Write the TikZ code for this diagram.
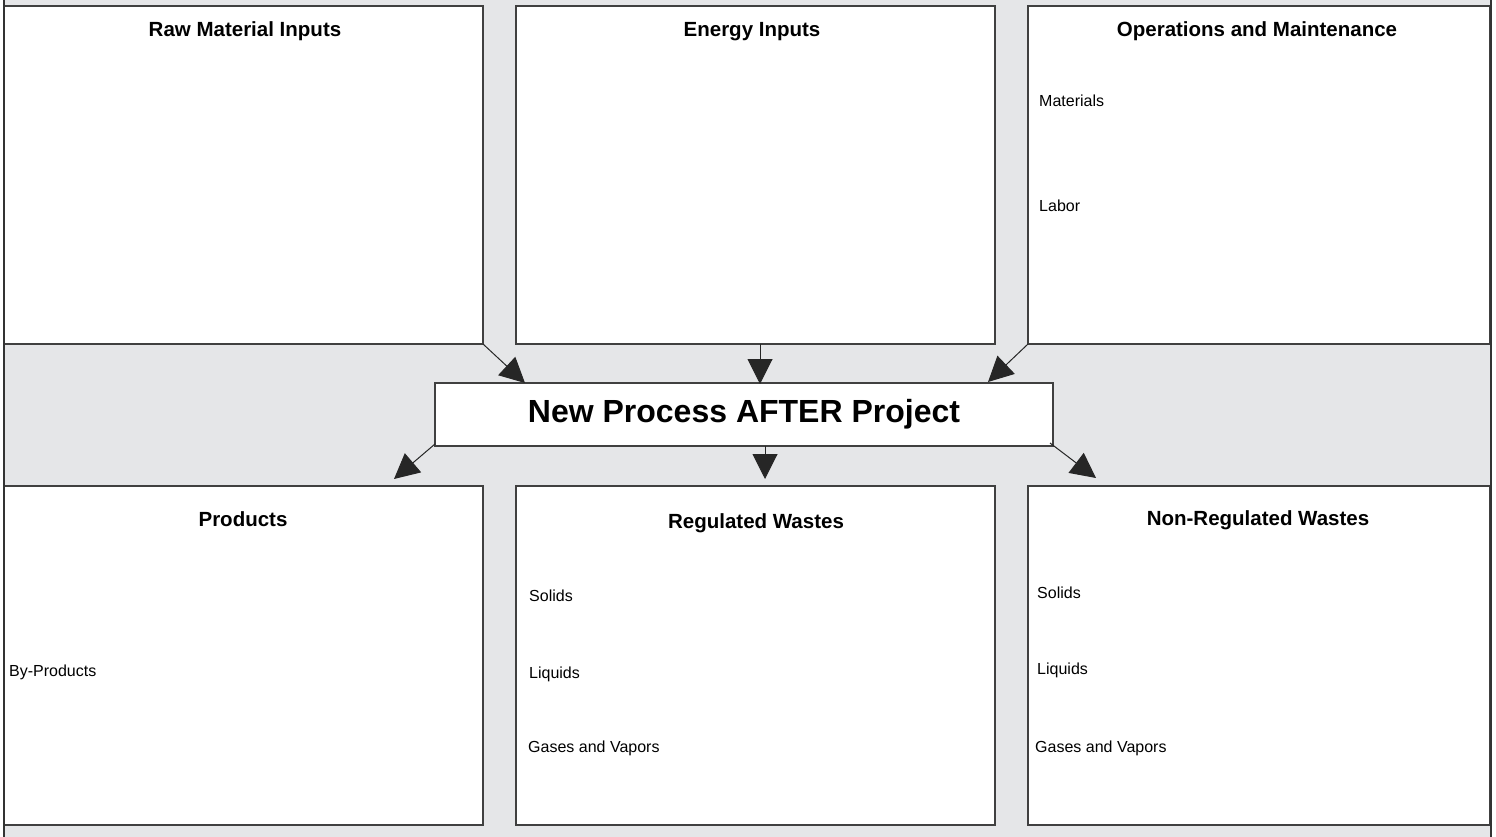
\documentclass[tikz,border=0pt]{standalone}
\usepackage{fontspec}
\setmainfont{Liberation Sans}
\usetikzlibrary{arrows.meta}
\definecolor{bggray}{HTML}{E5E6E8}
\definecolor{edgegray}{HTML}{404040}
\tikzset{
  panel/.style={draw=edgegray, line width=1.5pt, fill=white, anchor=north west, inner sep=0pt, outer sep=0pt},
  title/.style={font=\fontsize{20.5}{24}\selectfont\bfseries, text=black, inner sep=0pt},
  label/.style={font=\fontsize{16}{19}\selectfont, text=black, anchor=west, inner sep=0pt},
  flow/.style={draw=black!85, line width=1pt, -{Triangle[length=25pt,width=25pt]}},
}
\begin{document}
\begin{tikzpicture}[x=1pt,y=-1pt]
\useasboundingbox (0,0) rectangle (1496,837);
\fill[bggray] (4,0) rectangle (1491,837);
% top row
\node[panel, minimum width=479, minimum height=338] (raw) at (4,6) {};
\node[panel, minimum width=479, minimum height=338] (energy) at (516,6) {};
\node[panel, minimum width=462, minimum height=338] (om) at (1028,6) {};
% bottom row
\node[panel, minimum width=479, minimum height=339] (prod) at (4,486) {};
\node[panel, minimum width=479, minimum height=339] (reg) at (516,486) {};
\node[panel, minimum width=462, minimum height=339] (nonreg) at (1028,486) {};
% center
\node[panel, minimum width=618, minimum height=63] (proc) at (435,383) {};
\node[font=\fontsize{32}{36}\selectfont\bfseries, inner sep=0pt] (proctext) at (744,414.5) {New Process AFTER Project};
% outer side lines
\draw[edgegray!80!black, line width=2pt] (4,0) -- (4,837);
\draw[edgegray!80!black, line width=2pt] (1491,0) -- (1491,837);
% titles
\node[title] (t1) at (245,31.5) {Raw Material Inputs};
\node[title] (t2) at (752,31.5) {Energy Inputs};
\node[title] (t3) at (1257,31.5) {Operations and Maintenance};
\node[title] (t4) at (243,519.5) {Products};
\node[title] (t5) at (756,523) {Regulated Wastes};
\node[title] (t6) at (1258,520.5) {Non-Regulated Wastes};
% labels
\node[label] (l1) at (1039,100.5) {Materials};
\node[label] (l2) at (1039,205.5) {Labor};
\node[label] (l3) at (9,672.5) {By-Products};
\node[label] (l4) at (529,595.5) {Solids};
\node[label] (l5) at (529,674.5) {Liquids};
\node[label] (l6) at (528,748.5) {Gases and Vapors};
\node[label] (l7) at (1037,592.5) {Solids};
\node[label] (l8) at (1037,670.5) {Liquids};
\node[label] (l9) at (1035,748.5) {Gases and Vapors};
% connector end points
\coordinate (a1s) at (raw.south east);
\coordinate (a1e) at (525,383);
\coordinate (a2s) at (760,344);
\coordinate (a2e) at (760,384);
\coordinate (a3s) at (om.south west);
\coordinate (a3e) at (988,382);
\coordinate (a4s) at (435,444);
\coordinate (a4e) at (394,479);
\coordinate (a5s) at (765,446);
\coordinate (a5e) at (765,479);
\coordinate (a6s) at (1050,443);
\coordinate (a6e) at (1096,478);
\draw[flow] (a1s) -- (a1e);
\draw[flow] (a2s) -- (a2e);
\draw[flow] (a3s) -- (a3e);
\draw[flow] (a4s) -- (a4e);
\draw[flow] (a5s) -- (a5e);
\draw[flow] (a6s) -- (a6e);
\end{tikzpicture}
\end{document}
